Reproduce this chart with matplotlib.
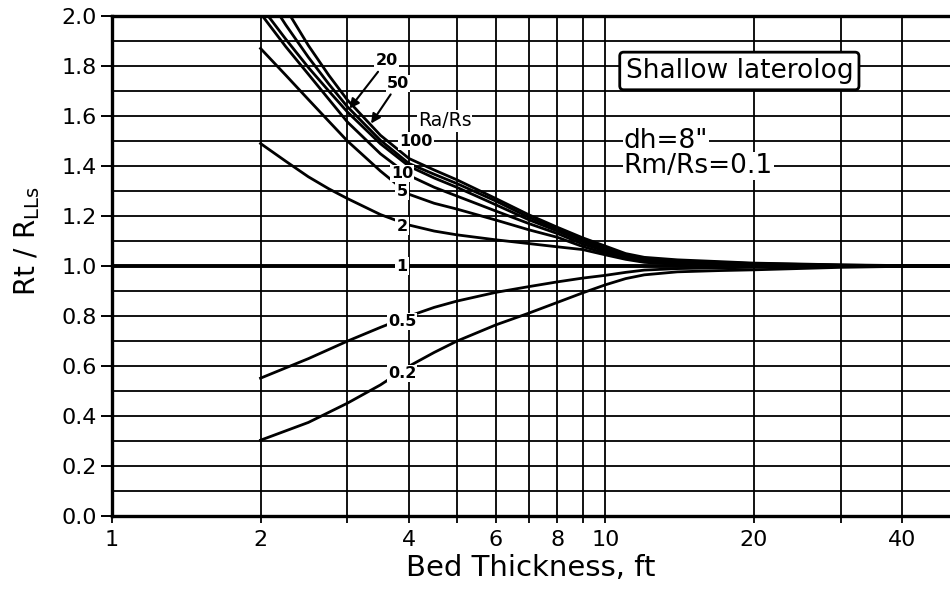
import matplotlib
matplotlib.use("Agg")
import matplotlib.pyplot as plt

plt.rcParams["font.family"] = ["DejaVu Sans"]

# bed thickness, ft
x_hi = [2, 2.25, 2.5, 2.75, 3, 3.5, 4, 4.5, 5, 6, 7, 8, 9, 10, 11, 12, 14, 17, 20, 30, 40, 50]
# Rt / R_LLs for Ra/Rs above 1 (values above 2.0 are clipped by the frame)
r100 = [2.20, 2.03, 1.882, 1.763, 1.664, 1.523, 1.43, 1.384, 1.345, 1.27, 1.205, 1.155, 1.113, 1.08,
        1.05, 1.035, 1.025, 1.018, 1.012, 1.005, 1.002, 1.0]
r50 = [2.12, 1.964, 1.835, 1.728, 1.637, 1.503, 1.41, 1.367, 1.33, 1.26, 1.195, 1.148, 1.105, 1.073,
       1.045, 1.03, 1.02, 1.015, 1.01, 1.004, 1.001, 1.0]
r20 = [2.04, 1.907, 1.794, 1.70, 1.616, 1.489, 1.399, 1.352, 1.315, 1.245, 1.185, 1.14, 1.097, 1.066,
       1.04, 1.026, 1.017, 1.012, 1.008, 1.003, 1.001, 1.0]
r10 = [2.01, 1.877, 1.767, 1.667, 1.576, 1.449, 1.362, 1.315, 1.28, 1.22, 1.17, 1.13, 1.088, 1.06,
       1.036, 1.022, 1.014, 1.01, 1.006, 1.002, 1.0, 1.0]
r5 = [1.87, 1.763, 1.666, 1.579, 1.50, 1.38, 1.287, 1.251, 1.228, 1.184, 1.145, 1.115, 1.078, 1.052,
      1.031, 1.018, 1.01, 1.007, 1.004, 1.001, 1.0, 1.0]
r2 = [1.49, 1.419, 1.357, 1.309, 1.27, 1.206, 1.164, 1.14, 1.125, 1.105, 1.09, 1.077, 1.066, 1.045,
      1.027, 1.015, 1.007, 1.004, 1.002, 1.0, 1.0, 1.0]

x_one = [1, 50]
r1 = [1.0, 1.0]

x_lo = [2, 2.5, 3, 3.5, 4, 4.5, 5, 6, 7, 8, 9, 10, 11, 12, 14, 17, 20, 30, 40, 50]
r05 = [0.552, 0.63, 0.70, 0.755, 0.80, 0.835, 0.86, 0.895, 0.918, 0.937, 0.952, 0.963, 0.975, 0.984,
       0.99, 0.993, 0.995, 0.998, 1.0, 1.0]
r02 = [0.304, 0.375, 0.452, 0.525, 0.600, 0.655, 0.70, 0.765, 0.812, 0.855, 0.893, 0.925, 0.95, 0.965,
       0.977, 0.982, 0.985, 0.995, 0.999, 1.0]

# curve labels: text, x, y
curve_labels = [
    ("100", 4.13, 1.50),
    ("10", 3.87, 1.37),
    ("5", 3.87, 1.30),
    ("2", 3.87, 1.16),
    ("1", 3.87, 1.00),
    ("0.5", 3.87, 0.78),
    ("0.2", 3.87, 0.57),
]
arrow_labels = [
    ("20", (3.60, 1.82), (3.03, 1.63)),
    ("50", (3.80, 1.73), (3.35, 1.57)),
]

x_ticks = [1, 2, 3, 4, 5, 6, 7, 8, 9, 10, 20, 30, 40]
x_ticklabels = ["1", "2", "", "4", "", "6", "", "8", "", "10", "20", "", "40"]
y_major = [0.0, 0.2, 0.4, 0.6, 0.8, 1.0, 1.2, 1.4, 1.6, 1.8, 2.0]
y_minor = [0.1, 0.3, 0.5, 0.7, 0.9, 1.1, 1.3, 1.5, 1.7, 1.9]

fig, ax = plt.subplots(figsize=(9.5, 5.9), dpi=100)
fig.subplots_adjust(left=0.118, right=1.0, top=0.973, bottom=0.125)

ax.set_xscale("log")
ax.set_xlim(1, 50)
ax.set_ylim(0, 2.0)

ax.set_xticks(x_ticks)
ax.set_xticklabels(x_ticklabels)
ax.xaxis.set_minor_locator(matplotlib.ticker.NullLocator())
ax.set_yticks(y_major)
ax.set_yticklabels([f"{v:.1f}" for v in y_major])
ax.set_yticks(y_minor, minor=True)

ax.grid(True, which="major", color="black", lw=1.3)
ax.grid(True, which="minor", axis="y", color="black", lw=1.3)
ax.tick_params(axis="y", which="major", length=8, width=1.4, direction="out", labelsize=16, pad=3)
ax.tick_params(axis="y", which="minor", length=0)
ax.tick_params(axis="x", which="major", length=5, width=1.3, direction="out", labelsize=16, pad=5)

for side in ["left", "top", "bottom"]:
    ax.spines[side].set_linewidth(2.4)
ax.spines["right"].set_visible(False)

lw = 2.0
for ys in [r100, r50, r20, r10, r5, r2]:
    ax.plot(x_hi, ys, color="black", lw=lw)
ax.plot(x_one, r1, color="black", lw=2.8)
for ys in [r05, r02]:
    ax.plot(x_lo, ys, color="black", lw=lw)

box = dict(fc="white", ec="none", pad=0.8)
for txt, xv, yv in curve_labels:
    ax.text(xv, yv, txt, ha="center", va="center", fontsize=11.5, fontweight="bold", bbox=box, zorder=5)
for txt, xt, xy in arrow_labels:
    ax.annotate(txt, xy=xy, xytext=xt, ha="center", va="center", fontsize=11.5, fontweight="bold",
                bbox=box, zorder=5,
                arrowprops=dict(arrowstyle="-|>", color="black", lw=1.5, mutation_scale=14,
                                shrinkA=2, shrinkB=0))
ax.text(4.72, 1.58, "Ra/Rs", ha="center", va="center", fontsize=13.5, bbox=box, zorder=5)

ax.text(18.7, 1.78, "Shallow laterolog", ha="center", va="center", fontsize=19, zorder=6,
        bbox=dict(boxstyle="round,pad=0.22,rounding_size=0.15", fc="white", ec="black", lw=2.0))
ax.text(10.9, 1.50, "dh=8\"", ha="left", va="center", fontsize=19, bbox=box, zorder=5)
ax.text(10.9, 1.40, "Rm/Rs=0.1", ha="left", va="center", fontsize=19, bbox=box, zorder=5)

ax.set_xlabel("Bed Thickness, ft", fontsize=21, labelpad=3)
ax.set_ylabel("Rt / R$_{\\mathregular{LLs}}$", fontsize=20)
ax.yaxis.set_label_coords(-0.084, 0.55)

fig.savefig("out.png", dpi=100)
